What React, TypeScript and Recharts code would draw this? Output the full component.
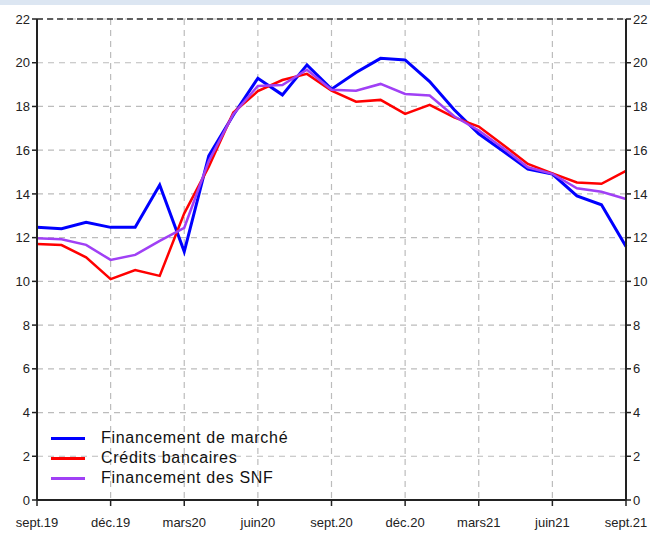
import React from "react";
import { CartesianGrid, Line, LineChart, ReferenceLine, XAxis, YAxis } from "recharts";

const months = [
  "sept.19", "oct.19", "nov.19", "déc.19", "janv.20", "févr.20", "mars20", "avr.20", "mai20",
  "juin20", "juil.20", "août20", "sept.20", "oct.20", "nov.20", "déc.20", "janv.21", "févr.21",
  "mars21", "avr.21", "mai21", "juin21", "juil.21", "août21", "sept.21",
];

const marche = [
  12.47, 12.41, 12.7, 12.47, 12.47, 14.41, 11.36, 15.74, 17.61, 19.29, 18.53, 19.9, 18.79,
  19.55, 20.2, 20.13, 19.14, 17.85, 16.75, 15.95, 15.13, 14.91, 13.91, 13.5, 11.59,
];

const credits = [
  11.71, 11.66, 11.1, 10.1, 10.52, 10.25, 13.11, 15.25, 17.72, 18.7, 19.21, 19.49, 18.72,
  18.22, 18.3, 17.66, 18.07, 17.5, 17.08, 16.24, 15.37, 14.94, 14.52, 14.46, 15.05,
];

const snf = [
  11.97, 11.93, 11.67, 10.98, 11.21, 11.85, 12.45, 15.5, 17.65, 18.94, 18.98, 19.68, 18.76,
  18.72, 19.03, 18.57, 18.5, 17.55, 16.9, 16.09, 15.22, 14.92, 14.26, 14.1, 13.77,
];

const xTicks = [0, 3, 6, 9, 12, 15, 18, 21, 24];
const yTicks = [0, 2, 4, 6, 8, 10, 12, 14, 16, 18, 20, 22];

const series = [
  { key: "marche", name: "Financement de marché", color: "#0000ff", width: 3 },
  { key: "credits", name: "Crédits bancaires", color: "#ff0000", width: 2.5 },
  { key: "snf", name: "Financement des SNF", color: "#a040f5", width: 2.5 },
];

const data = months.map((m, i) => ({
  i,
  month: m,
  marche: marche[i],
  credits: credits[i],
  snf: snf[i],
}));

const FONT = "'Liberation Sans', Arial, Helvetica, sans-serif";
const tickStyle = { fontSize: 13, fill: "#222", fontFamily: FONT };
const axisLine = { stroke: "#222", strokeWidth: 2 };
const tickLine = { stroke: "#222", strokeWidth: 1.5 };

const LegendBox = () => (
  <div
    style={{
      position: "absolute",
      left: 51,
      top: 428,
      fontFamily: FONT,
      fontSize: 16,
      letterSpacing: 0.7,
      color: "#111",
    }}
  >
    {series.map((s) => (
      <div key={s.key} style={{ display: "flex", alignItems: "center", height: 20 }}>
        <span style={{ width: 34, height: 3, background: s.color, display: "inline-block" }} />
        <span style={{ marginLeft: 16, lineHeight: "20px" }}>{s.name}</span>
      </div>
    ))}
  </div>
);

export default function App() {
  return (
    <div style={{ position: "absolute", left: 0, top: 0, width: 650, height: 533, background: "#fff" }}>
      <div style={{ position: "absolute", left: 0, top: 0, width: 650, height: 5, background: "#dce6f2" }} />
      <LineChart width={650} height={533} data={data} margin={{ top: 19, right: 0, left: 0, bottom: 0 }}>
        <CartesianGrid stroke="#bcbcbc" strokeWidth={1.2} strokeDasharray="6 5" />
        <XAxis
          dataKey="i"
          type="number"
          domain={[0, 24]}
          ticks={xTicks}
          tickFormatter={(v) => months[v]}
          height={33}
          tickSize={6}
          tickMargin={12}
          tick={tickStyle}
          axisLine={axisLine}
          tickLine={tickLine}
          interval={0}
        />
        <YAxis
          domain={[0, 22]}
          ticks={yTicks}
          width={37}
          tickSize={5}
          tick={tickStyle}
          axisLine={axisLine}
          tickLine={tickLine}
          interval={0}
        />
        <YAxis
          yAxisId="r"
          orientation="right"
          domain={[0, 22]}
          ticks={yTicks}
          width={24}
          tickSize={5}
          tick={{ ...tickStyle, textAnchor: "start" }}
          axisLine={axisLine}
          tickLine={tickLine}
          interval={0}
        />
        <ReferenceLine y={22} stroke="#333" strokeWidth={1.5} strokeDasharray="6 4" />
        {series.map((s) => (
          <Line
            key={s.key}
            dataKey={s.key}
            name={s.name}
            yAxisId={s.key === "snf" ? "r" : 0}
            stroke={s.color}
            strokeWidth={s.width}
            dot={false}
            isAnimationActive={false}
          />
        ))}
      </LineChart>
      <LegendBox />
    </div>
  );
}
